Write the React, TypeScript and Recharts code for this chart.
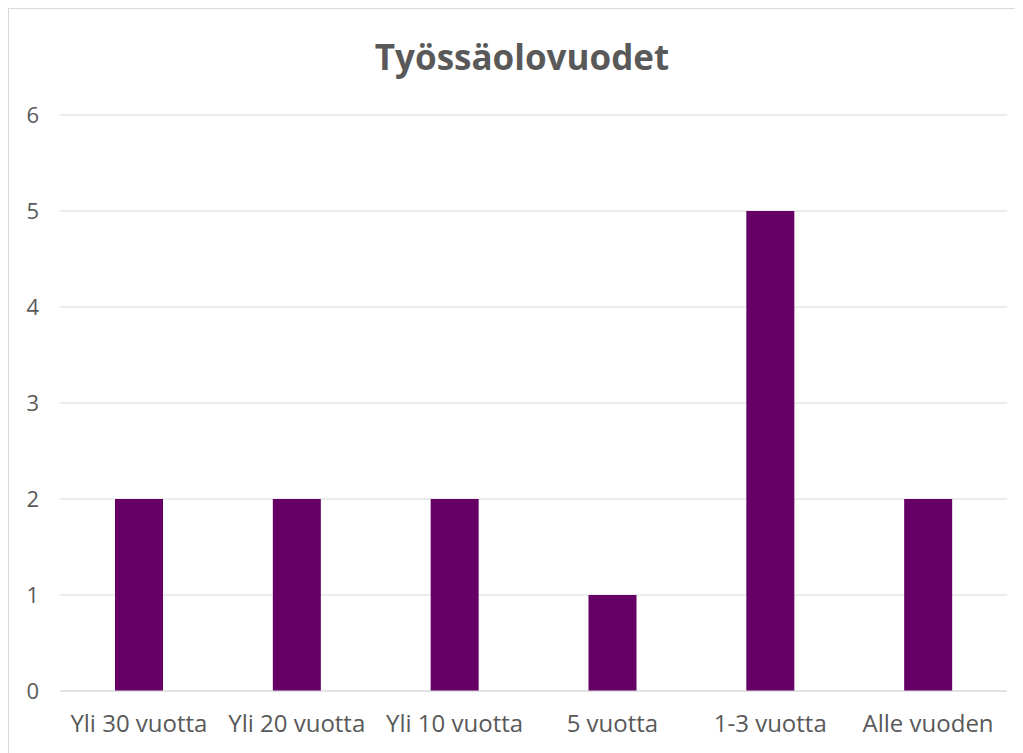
import { BarChart, Bar, XAxis, YAxis, CartesianGrid } from "recharts";

const categories = ["Yli 30 vuotta", "Yli 20 vuotta", "Yli 10 vuotta", "5 vuotta", "1-3 vuotta", "Alle vuoden"];
const counts = [2, 2, 2, 1, 5, 2];
const yTicks = [0, 1, 2, 3, 4, 5, 6];

const data = categories.map((name, i) => ({ name, value: counts[i] }));

const FONT = "'Open Sans', 'Noto Sans', sans-serif";
const GREY = "#595959";

export default function App() {
  return (
    <div
      style={{
        position: "relative",
        width: 1014,
        height: 744,
        borderTop: "1px solid #d9d9d9",
        borderLeft: "1px solid #d9d9d9",
        background: "#fff",
        fontFamily: FONT,
        overflow: "hidden",
      }}
    >
      <div
        style={{
          position: "absolute",
          left: 0,
          top: 25,
          width: 1026,
          textAlign: "center",
          fontSize: 35,
          fontWeight: 700,
          color: GREY,
          lineHeight: "46px",
        }}
      >
        Työssäolovuodet
      </div>
      <BarChart
        width={1014}
        height={744}
        data={data}
        margin={{ top: 106, right: 16, bottom: 0, left: 0 }}
      >
        <CartesianGrid vertical={false} stroke="#d9d9d9" strokeWidth={1} />
        <XAxis
          dataKey="name"
          height={62}
          tickLine={false}
          tickSize={0}
          tickMargin={24}
          axisLine={{ stroke: "#d9d9d9" }}
          tick={{ fill: GREY, fontSize: 24, fontFamily: FONT }}
          interval={0}
        />
        <YAxis
          width={51}
          domain={[0, 6]}
          ticks={yTicks}
          axisLine={false}
          tickLine={false}
          tickSize={0}
          tickMargin={21}
          tick={{ fill: GREY, fontSize: 22, fontFamily: FONT }}
        />
        <Bar dataKey="value" fill="#660066" barSize={48} isAnimationActive={false} />
      </BarChart>
    </div>
  );
}
